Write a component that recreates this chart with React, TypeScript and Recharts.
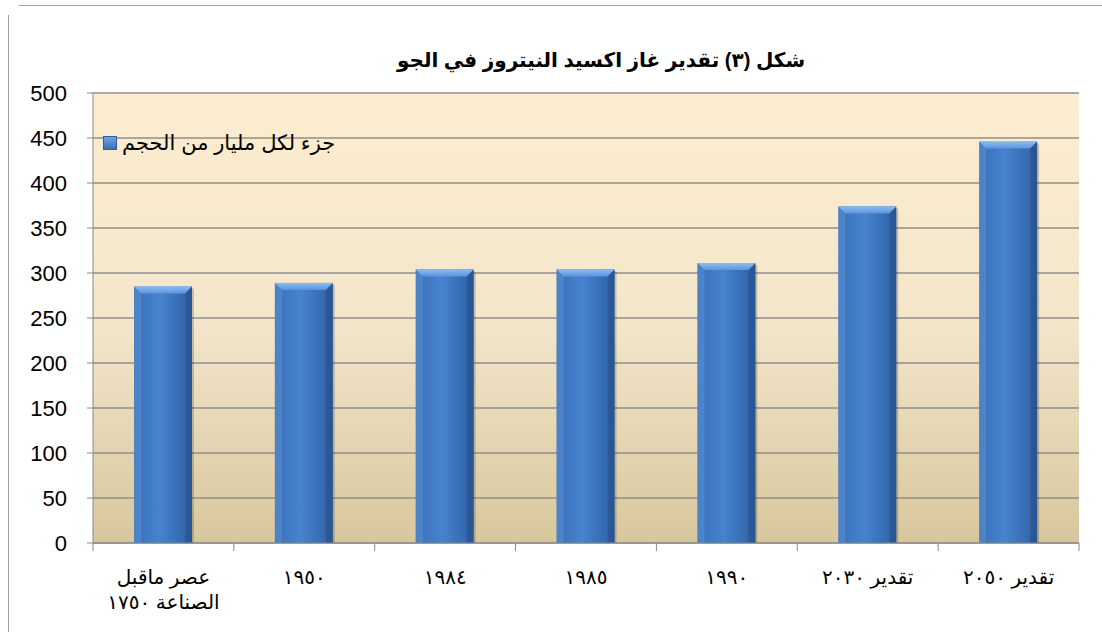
import React from 'react';
import { BarChart, Bar, XAxis, YAxis, CartesianGrid } from 'recharts';

const categories = ['عصر ماقبل|الصناعة ١٧٥٠', '١٩٥٠', '١٩٨٤', '١٩٨٥', '١٩٩٠', 'تقدير ٢٠٣٠', 'تقدير ٢٠٥٠'];
const values = [285, 289, 304, 304, 311, 374, 446];
const yTicks = [0, 50, 100, 150, 200, 250, 300, 350, 400, 450, 500];
const seriesName = 'جزء لكل مليار من الحجم';
const title = 'شكل (٣) تقدير غاز اكسيد النيتروز في الجو';

const data = categories.map((name, i) => ({ name, value: values[i] }));

const FONT = '"Liberation Sans", "DejaVu Sans", Arial, sans-serif';
const HALF_BAND = (1079 - 93) / categories.length / 2;

// bar with a light bevel on top, like the office chart style
const BevelBar = (props: any) => {
  const { x, y, width, height } = props;
  if (!height || height <= 0) return null;
  const b = 7;
  return (
    <g>
      <rect x={x + 2} y={y + 2} width={width} height={height - 2} fill="rgba(0,0,0,0.18)" />
      <rect x={x} y={y} width={width} height={height} fill="url(#barFill)" />
      <polygon
        points={`${x},${y} ${x + width},${y} ${x + width - b},${y + b} ${x + b},${y + b}`}
        fill="url(#bevelFill)"
      />
      <polygon points={`${x},${y} ${x + b},${y + b} ${x + b},${y + height} ${x},${y + height}`} fill="rgba(120,170,230,0.3)" />
      <polygon points={`${x + width},${y} ${x + width - b},${y + b} ${x + width - b},${y + height} ${x + width},${y + height}`} fill="rgba(20,50,100,0.25)" />
    </g>
  );
};

const XTick = (props: any) => {
  const { x, y, payload, index } = props;
  const lines = String(payload.value).split('|');
  return (
    <g>
      <line x1={x - HALF_BAND} y1={y - 8} x2={x - HALF_BAND} y2={y} stroke="#888" />
      {index === categories.length - 1 && (
        <line x1={x + HALF_BAND} y1={y - 8} x2={x + HALF_BAND} y2={y} stroke="#888" />
      )}
      <text x={x} y={y + 33} textAnchor="middle" fontSize={20} fill="#000" fontFamily={FONT}>
        {lines[0]}
      </text>
      {lines[1] && (
        <text x={x} y={y + 58} textAnchor="middle" fontSize={20} fill="#000" fontFamily={FONT}>
          {lines[1]}
        </text>
      )}
    </g>
  );
};

export default function App() {
  return (
    <div style={{ position: 'absolute', left: 0, top: 0, width: 1102, height: 632, background: '#fff' }}>
      <div style={{ position: 'absolute', left: 19, top: 5, width: 1083, height: 1, background: '#a0a0a0' }} />
      <div style={{ position: 'absolute', left: 8, top: 15, width: 1, height: 617, background: '#a0a0a0' }} />
      <div
        style={{
          position: 'absolute',
          left: 0,
          width: 1102,
          top: 48,
          textAlign: 'center',
          fontFamily: FONT,
          fontWeight: 'bold',
          fontSize: 20,
          direction: 'rtl',
          paddingLeft: 100,
          boxSizing: 'border-box',
        }}
      >
        {title}
      </div>
      <BarChart
        width={1102}
        height={632}
        data={data}
        margin={{ top: 93, right: 23, bottom: 59, left: 0 }}
        barSize={58}
      >
        <defs>
          <linearGradient id="bgFill" x1="0" y1="0" x2="0" y2="1">
            <stop offset="0%" stopColor="#fdedd0" />
            <stop offset="50%" stopColor="#f3e6cb" />
            <stop offset="100%" stopColor="#d8c79d" />
          </linearGradient>
          <linearGradient id="barFill" x1="0" y1="0" x2="1" y2="0">
            <stop offset="0%" stopColor="#3a70b8" />
            <stop offset="45%" stopColor="#4683cf" />
            <stop offset="100%" stopColor="#2f60a3" />
          </linearGradient>
          <linearGradient id="bevelFill" x1="0" y1="0" x2="0" y2="1">
            <stop offset="0%" stopColor="#8cbcf2" />
            <stop offset="100%" stopColor="#5b95dc" />
          </linearGradient>
        </defs>
        <CartesianGrid vertical={false} stroke="#8f8f8f" strokeWidth={1.5} fill="url(#bgFill)" fillOpacity={1} />
        <XAxis dataKey="name" stroke="#888" tickLine={false} interval={0} tick={<XTick />} />
        <YAxis
          width={93}
          domain={[0, 500]}
          ticks={yTicks}
          stroke="#888"
          tickMargin={20}
          tick={{ fill: '#000', fontSize: 22, fontFamily: FONT }}
        />
        <Bar dataKey="value" name={seriesName} shape={<BevelBar />} isAnimationActive={false} />
      </BarChart>
      <div
        style={{
          position: 'absolute',
          left: 103,
          top: 131,
          display: 'flex',
          alignItems: 'center',
          fontFamily: FONT,
          fontSize: 21,
          color: '#000',
        }}
      >
        <span
          style={{
            display: 'inline-block',
            width: 12,
            height: 12,
            background: 'linear-gradient(#6fa5e8, #3a6fb5)',
            border: '1px solid #2f5f9e',
            marginRight: 5,
          }}
        />
        <span>{seriesName}</span>
      </div>
    </div>
  );
}
